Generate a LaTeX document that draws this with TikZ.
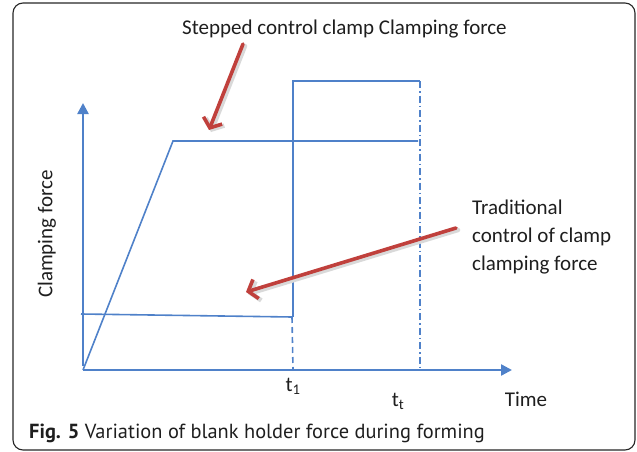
\documentclass[tikz,border=0pt]{standalone}
\usepackage{fontspec}
\setmainfont{Carlito}
\newfontfamily\capfont{PT Sans}
\usetikzlibrary{arrows.meta}
\definecolor{lblue}{RGB}{79,129,201}
\definecolor{lred}{RGB}{192,64,60}
\definecolor{txt}{RGB}{30,30,30}
\tikzset{
  axisline/.style={draw=lblue, line width=2.4pt, -{Triangle[length=11pt,width=11pt]}},
  curve/.style={draw=lblue, line width=1.6pt, line join=miter},
  pointer/.style={draw=lred, line width=3.6pt, line cap=round, -{Straight Barb[length=8pt,width=20pt,line width=3.6pt]}},
  pshadow/.style={draw=black!15, line width=4.5pt, line cap=round, -{Straight Barb[length=8pt,width=20pt,line width=4.5pt]}},
  lbl/.style={text=txt, font=\fontsize{21}{25}\selectfont, inner sep=0pt},
}
\begin{document}
\begin{tikzpicture}[x=1pt,y=-1pt]
\useasboundingbox (0,0) rectangle (637,452);
% frame
\draw[black!85, line width=1.1pt, rounded corners=10pt] (13,3) rectangle (635,450);
% coordinates
\coordinate (O) at (83,370);
\coordinate (Ytop) at (83,103);
\coordinate (Xend) at (512,370);
\coordinate (A) at (173,141);
\coordinate (B) at (418,141);
\coordinate (L0) at (81,314);
\coordinate (L1) at (292,317);
\coordinate (T1) at (293,370);
\coordinate (U1) at (293,81);
\coordinate (U2) at (420,81);
\coordinate (TT) at (420,370);
% axes
\draw[axisline] (83,366) -- (Ytop);
\draw[axisline] (O) -- (Xend);
% traditional (trapezoid)
\draw[curve] (O) -- (A) -- (B);
% stepped
\draw[curve] (L0) -- (L1);
\draw[curve] (T1 |- L1) -- (U1) -- (U2);
\draw[draw=lblue, line width=1.6pt, dash pattern=on 6pt off 4pt] (L1) -- (T1);
\draw[draw=lblue, line width=1.6pt, dash pattern=on 7pt off 3pt on 1.5pt off 3pt] (U2) -- (TT);
% labels
\node[lbl] (t1) at (293,386) {t\textsubscript{1}};
\node[lbl] (tt) at (398,401) {t\textsubscript{t}};
\node[lbl] (time) at (526,399) {Time};
\node[lbl, rotate=90] (cf) at (47,234) {Clamping force};
\node[lbl, anchor=west] (step) at (182,29) {Stepped control clamp Clamping force};
\node[lbl, anchor=west, align=left, font=\fontsize{21}{28}\selectfont] (trad) at (472,237) {Traditional\\control of clamp\\clamping force};
% red pointers
\coordinate (p1s) at (243,44);
\coordinate (p1e) at (209,130);
\coordinate (p2s) at (456,228);
\coordinate (p2e) at (246,292);
\draw[pshadow] ([shift={(2,2)}]p1s) -- ([shift={(2,2)}]p1e);
\draw[pshadow] ([shift={(2,2)}]p2s) -- ([shift={(2,2)}]p2e);
\draw[pointer] (p1s) -- (p1e);
\draw[pointer] (p2s) -- (p2e);
% caption
\node[anchor=west, inner sep=0pt, text=txt, font=\capfont\fontsize{20.4}{22}\selectfont] (cap) at (29,433) {\textbf{Fig. 5} Variation of blank holder force during forming};
\end{tikzpicture}
\end{document}
